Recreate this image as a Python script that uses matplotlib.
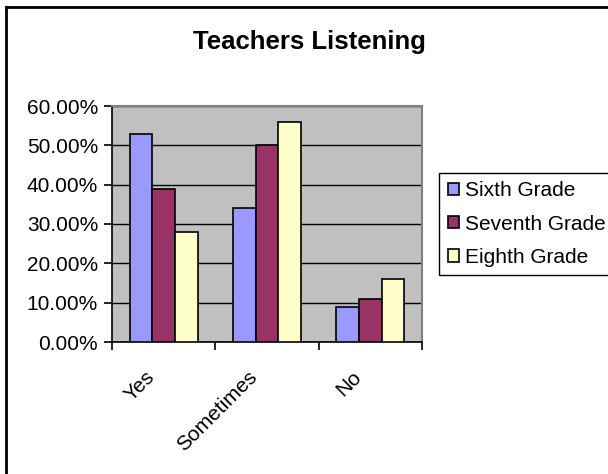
import numpy as np
import matplotlib.pyplot as plt
from matplotlib.lines import Line2D
import matplotlib.transforms as mtransforms

plt.rcParams['font.family'] = ['Liberation Sans', 'DejaVu Sans']

categories = ["Yes", "Sometimes", "No"]
series_names = ["Sixth Grade", "Seventh Grade", "Eighth Grade"]
sixth = [53, 34, 9]
seventh = [39, 50, 11]
eighth = [28, 56, 16]
colors = ["#9999FF", "#993366", "#FFFFCC"]

fig = plt.figure(figsize=(6.08, 4.74), dpi=100)
ax = fig.add_axes([112 / 608, 1 - 342 / 474, 310 / 608, 236 / 474])
ax.set_facecolor("#C0C0C0")

x = np.arange(len(categories))
width = 0.22
for i, (vals, name, col) in enumerate(zip([sixth, seventh, eighth], series_names, colors)):
    ax.bar(x + (i - 1) * width, vals, width, color=col, edgecolor="black",
           linewidth=1.2, label=name, zorder=3)

ax.set_xlim(-0.5, 2.5)
ax.set_ylim(0, 60)
ax.set_yticks(np.arange(0, 61, 10))
ax.set_yticklabels([f"{v:.2f}%" for v in np.arange(0, 61, 10)], fontsize=15)
ax.yaxis.grid(True, color="black", linewidth=1.0, zorder=1)
ax.set_axisbelow(True)

# ticks between categories, labels centred under each group
ax.set_xticks([-0.5, 0.5, 1.5, 2.5])
ax.set_xticklabels([])
ax.tick_params(axis="x", length=6, width=1.2, direction="out")
ax.tick_params(axis="y", length=6, width=1.2, direction="out", pad=4)

base = mtransforms.blended_transform_factory(ax.transData, ax.transAxes)
shift = mtransforms.ScaledTranslation(-19 / 100, -25 / 100, fig.dpi_scale_trans)
for xi, cat in zip(x, categories):
    ax.text(xi, 0, cat, transform=base + shift, rotation=45, ha="right",
            va="top", rotation_mode="anchor", fontsize=15)

for side in ["left", "bottom"]:
    ax.spines[side].set_color("black")
    ax.spines[side].set_linewidth(1.2)
for side in ["top", "right"]:
    ax.spines[side].set_color("#808080")
    ax.spines[side].set_linewidth(1.5)

fig.text(309 / 608, 1 - 42 / 474, "Teachers Listening", fontsize=18.5,
         fontweight="bold", ha="center", va="center")

leg = fig.legend(loc="center left", bbox_to_anchor=(439 / 608, 1 - 224 / 474),
                 fontsize=15, frameon=True, fancybox=False, framealpha=1,
                 edgecolor="black", handlelength=0.55, handleheight=0.55,
                 handletextpad=0.3, labelspacing=0.68, borderpad=0.42,
                 borderaxespad=0)
leg.get_frame().set_linewidth(1.0)

# chart outline
fig.add_artist(Line2D([6 / 608, 6 / 608], [0, 1 - 7 / 474], color="black",
                      linewidth=2, transform=fig.transFigure))
fig.add_artist(Line2D([6 / 608, 1], [1 - 7 / 474, 1 - 7 / 474], color="black",
                      linewidth=2, transform=fig.transFigure))

fig.savefig("out.png", dpi=100)
